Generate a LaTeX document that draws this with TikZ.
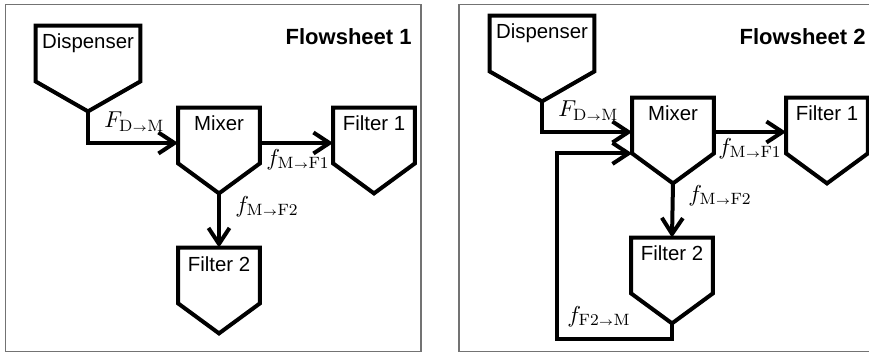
\RequirePackage{fix-cm}
\documentclass[tikz,border=0pt]{standalone}
\usepackage[no-math]{fontspec}
\newfontfamily\lsans{Liberation Sans}
\usetikzlibrary{arrows.meta}
\DeclareMathSizes{11.5}{11.5}{8.2}{5.5}
\newcommand\tinyto{{\scriptscriptstyle\to}}
\newcommand\drawpent[1]{\draw[shell] (#1.north west) -- (#1.north east) -- ([yshift=15pt]#1.south east) -- (#1.south) -- ([yshift=15pt]#1.south west) -- cycle;}
\begin{document}
\begin{tikzpicture}[x=0.5pt,y=-0.5pt,
  unit/.style={draw=none, inner sep=0pt, minimum width=40.5pt, minimum height=42.5pt,
    text height=11.5pt, text depth=31pt, font=\lsans\fontsize{10.2}{12}\selectfont},
  wide/.style={unit, minimum width=52pt},
  shell/.style={line width=2pt},
  flow/.style={line width=2pt, -{Straight Barb[length=8pt,width=10.5pt]}},
  lab/.style={anchor=base west, inner sep=0pt, font=\fontsize{11.5}{13}\selectfont},
  title/.style={anchor=base east, inner sep=0pt, font=\lsans\bfseries\fontsize{11}{13}\selectfont},
  frame/.style={draw=black!55, line width=0.75pt}]
\useasboundingbox (0,0) rectangle (869,353);
% frames
\draw[frame] (5.5,4.5) rectangle (421,351.5);
\draw[frame] (459,4.5) rectangle (880,351.5);
% Flowsheet 1
\node[wide] (D1) at (88,68.5) {Dispenser};
\node[unit] (M1) at (219,150.5) {Mixer};
\node[unit] (A1) at (374,150.5) {Filter 1};
\node[unit] (B1) at (219,290.5) {Filter 2};
\drawpent{D1}\drawpent{M1}\drawpent{A1}\drawpent{B1}
\draw[flow] (D1.south) |- ([yshift=3.75pt]M1.west);
\draw[flow] ([yshift=3.75pt]M1.east) -- ([yshift=3.75pt]A1.west);
\draw[flow] (M1.south) -- (B1.north);
\node[lab] (l1) at (104,128) {$F_{\mathrm{D}\tinyto\mathrm{M}}$};
\node[lab] (l2) at (266,165.5) {$f_{\mathrm{M}\tinyto\mathrm{F1}}$};
\node[lab] (l3) at (235,212.5) {$f_{\mathrm{M}\tinyto\mathrm{F2}}$};
\node[title] (t1) at (412,45) {Flowsheet 1};
% Flowsheet 2
\node[wide] (D2) at (542,58.5) {Dispenser};
\node[unit] (M2) at (673,140.5) {Mixer};
\node[unit] (A2) at (827,140.5) {Filter 1};
\node[unit] (B2) at (672,280.5) {Filter 2};
\drawpent{D2}\drawpent{M2}\drawpent{A2}\drawpent{B2}
\draw[flow] (D2.south) |- ([yshift=4.25pt]M2.west);
\draw[flow] ([yshift=4.25pt]M2.east) -- ([yshift=4.25pt]A2.west);
\draw[flow] (M2.south) -- (B2.north);
\coordinate (R) at (557,339);
\draw[flow] (B2.south) |- (R) |- ([yshift=15pt]M2.south west);
\node[lab] (r1) at (558,117) {$F_{\mathrm{D}\tinyto\mathrm{M}}$};
\node[lab] (r2) at (718,154.5) {$f_{\mathrm{M}\tinyto\mathrm{F1}}$};
\node[lab] (r3) at (688,201.5) {$f_{\mathrm{M}\tinyto\mathrm{F2}}$};
\node[lab] (r4) at (567,322.5) {$f_{\mathrm{F2}\tinyto\mathrm{M}}$};
\node[title] (t2) at (866,45) {Flowsheet 2};
\end{tikzpicture}
\end{document}
